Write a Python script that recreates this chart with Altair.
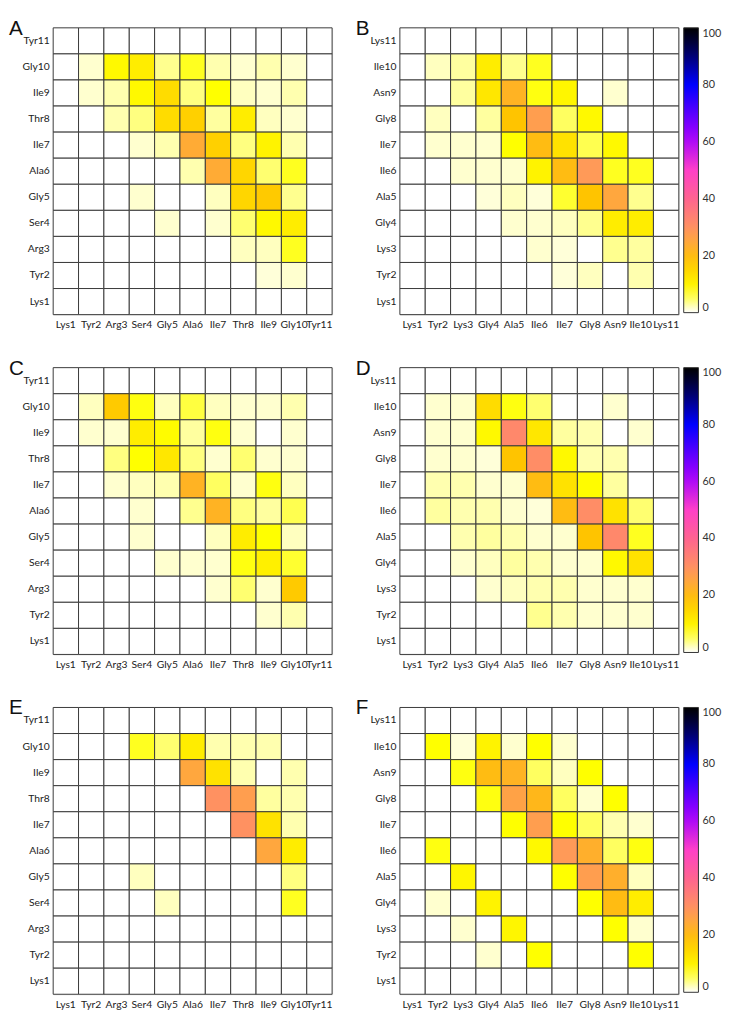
import altair as alt
import pandas as pd

left_res = ["Lys1", "Tyr2", "Arg3", "Ser4", "Gly5", "Ala6", "Ile7", "Thr8", "Ile9", "Gly10", "Tyr11"]
right_res = ["Lys1", "Tyr2", "Lys3", "Gly4", "Ala5", "Ile6", "Ile7", "Gly8", "Asn9", "Ile10", "Lys11"]

# each matrix: rows from residue 11 (top) down to residue 1 (bottom); columns residue 1..11
A_vals = [
    [0, 0, 0, 0, 0, 0, 0, 0, 0, 0, 0],
    [0, 1.5, 9, 11, 3.5, 7, 2.5, 1.5, 2.5, 1.5, 0],
    [0, 1.5, 2.5, 9, 14, 4, 8, 2, 1.5, 2.5, 0],
    [0, 0, 2.5, 4, 14, 16, 3, 11, 2, 1.5, 0],
    [0, 0, 0, 1.5, 2.5, 24, 16, 4, 10, 2.5, 0],
    [0, 0, 0, 0, 0, 2.5, 24, 15, 4.5, 7, 0],
    [0, 0, 0, 1.5, 0, 0, 2, 15, 17, 3.5, 0],
    [0, 0, 0, 0, 1.5, 0, 1.5, 4.5, 9, 11, 0],
    [0, 0, 0, 0, 0, 0, 0, 2, 2, 7, 0],
    [0, 0, 0, 0, 0, 0, 0, 0, 1.2, 1.5, 0],
    [0, 0, 0, 0, 0, 0, 0, 0, 0, 0, 0],
]
B_vals = [
    [0, 0, 0, 0, 0, 0, 0, 0, 0, 0, 0],
    [0, 2, 3, 11, 3.5, 7, 0, 0, 0, 0, 0],
    [0, 0, 3, 12, 22, 7.5, 9.5, 0, 1.5, 0, 0],
    [0, 2, 0, 3, 18, 27, 5, 9, 0, 0, 0],
    [0, 1.5, 1.5, 1.5, 8, 20, 13, 5.5, 9, 0, 0],
    [0, 0, 1.5, 1.5, 1.5, 10, 20, 28, 7, 7, 0],
    [0, 0, 0, 1.2, 2, 1.2, 6.5, 18, 25, 3.5, 0],
    [0, 0, 0, 0, 1.5, 1.5, 2, 3.5, 11, 11, 0],
    [0, 0, 0, 0, 0, 1.5, 1.2, 0, 3.5, 3, 0],
    [0, 0, 0, 0, 0, 0, 1.2, 2, 0, 2.5, 0],
    [0, 0, 0, 0, 0, 0, 0, 0, 0, 0, 0],
]
C_vals = [
    [0, 0, 0, 0, 0, 0, 0, 0, 0, 0, 0],
    [0, 2, 17, 7.5, 2, 6, 2, 1.5, 1.5, 2.5, 0],
    [0, 1.5, 1.5, 11, 8.5, 3, 7.5, 1.5, 0, 1.5, 0],
    [0, 0, 4, 8, 12, 4, 1.5, 4.5, 1.5, 1.5, 0],
    [0, 0, 1.5, 2, 2.5, 22, 5, 1.5, 7.5, 2, 0],
    [0, 0, 0, 1.5, 0, 3.5, 22, 4, 3, 5.5, 0],
    [0, 0, 0, 1.5, 0, 0, 2, 11, 8, 2, 0],
    [0, 0, 0, 0, 1.5, 1.5, 1.5, 7.5, 10.5, 6.5, 0],
    [0, 0, 0, 0, 0, 0, 1.5, 4.5, 1.5, 17, 0],
    [0, 0, 0, 0, 0, 0, 0, 0, 1.5, 2.5, 0],
    [0, 0, 0, 0, 0, 0, 0, 0, 0, 0, 0],
]
D_vals = [
    [0, 0, 0, 0, 0, 0, 0, 0, 0, 0, 0],
    [0, 1.5, 1.5, 14, 7.5, 4.5, 0, 0, 1.5, 0, 0],
    [0, 1.5, 1.5, 9, 32, 12, 3, 2.5, 0, 1.5, 0],
    [0, 1.5, 1.5, 1.2, 18, 31, 9, 2.5, 2.5, 0, 0],
    [0, 2.5, 2.5, 1.5, 1.5, 20, 13, 8.5, 3, 0, 0],
    [0, 3, 2.5, 2.5, 1.5, 1.2, 20, 31, 13, 4.5, 0],
    [0, 0, 2.5, 3, 2.5, 1.5, 1.5, 18, 32, 7, 0],
    [0, 0, 1.5, 2, 3, 2.5, 1.5, 1.5, 9, 13, 0],
    [0, 0, 0, 1.5, 2, 2.5, 2.5, 1.5, 1.5, 1.5, 0],
    [0, 0, 0, 0, 0, 3.5, 2.5, 1.5, 1.5, 1.5, 0],
    [0, 0, 0, 0, 0, 0, 0, 0, 0, 0, 0],
]
E_vals = [
    [0, 0, 0, 0, 0, 0, 0, 0, 0, 0, 0],
    [0, 0, 0, 7, 4.5, 11, 2.5, 2.5, 2.5, 0, 0],
    [0, 0, 0, 0, 0, 25, 13, 2.5, 0, 2.5, 0],
    [0, 0, 0, 0, 0, 0, 30, 27, 3, 2.5, 0],
    [0, 0, 0, 0, 0, 0, 0, 30, 13, 2.5, 0],
    [0, 0, 0, 0, 0, 0, 0, 0, 25, 11, 0],
    [0, 0, 0, 2, 0, 0, 0, 0, 0, 4, 0],
    [0, 0, 0, 0, 2, 0, 0, 0, 0, 7, 0],
    [0, 0, 0, 0, 0, 0, 0, 0, 0, 0, 0],
    [0, 0, 0, 0, 0, 0, 0, 0, 0, 0, 0],
    [0, 0, 0, 0, 0, 0, 0, 0, 0, 0, 0],
]
F_vals = [
    [0, 0, 0, 0, 0, 0, 0, 0, 0, 0, 0],
    [0, 8, 1.2, 10, 1.5, 8, 1.5, 0, 0, 0, 0],
    [0, 0, 7.5, 20, 22, 5, 2, 8, 0, 0, 0],
    [0, 0, 0, 7.5, 26, 21, 5, 1.5, 8, 0, 0],
    [0, 0, 0, 0, 8, 27, 8, 5, 2.5, 1.5, 0],
    [0, 7.5, 0, 0, 0, 9, 28, 23, 5, 7.5, 0],
    [0, 0, 9.5, 0, 0, 0, 8, 27, 23, 2, 0],
    [0, 1.5, 0, 10, 0, 0, 0, 8, 20, 11, 0],
    [0, 0, 1.5, 0, 9.5, 0, 0, 0, 8, 1.5, 0],
    [0, 0, 0, 1.5, 0, 8, 0, 0, 0, 8, 0],
    [0, 0, 0, 0, 0, 0, 0, 0, 0, 0, 0],
]

color_domain = [0, 8, 18, 28, 40, 50, 62, 80, 92, 100]
color_range = ["#ffffff", "#ffff00", "#ffc400", "#ff9a58", "#ff6490",
               "#ff40c8", "#a000ff", "#0000ff", "#00005a", "#000000"]
legend_values = [0, 20, 40, 60, 80, 100]

FONT = "Lato"
W, H = 284, 292


def panel(letter, residues, vals, with_legend):
    rows_top_down = residues[::-1]
    recs = []
    for i, rname in enumerate(rows_top_down):
        for j, cname in enumerate(residues):
            recs.append({"x": cname, "y": rname, "v": vals[i][j]})
    df = pd.DataFrame(recs)
    if with_legend:
        leg = alt.Legend(title=None, orient="right", offset=5, direction="vertical",
                         gradientLength=290, gradientThickness=15,
                         values=legend_values, labelFontSize=11, labelFont=FONT,
                         labelColor="#333", gradientStrokeColor="#333",
                         gradientStrokeWidth=1, labelOffset=4)
    else:
        leg = None
    color = alt.Color("v:Q", scale=alt.Scale(domain=color_domain, range=color_range,
                                             interpolate="rgb"),
                      legend=leg)
    rect = alt.Chart(df).mark_rect(stroke="#3a3a3a", strokeWidth=1).encode(
        x=alt.X("x:N", sort=residues, title=None,
                axis=alt.Axis(labelAngle=0, ticks=False, domain=False, labelPadding=5,
                              labelFont=FONT, labelFontSize=10.5, labelColor="#222",
                              orient="bottom")),
        y=alt.Y("y:N", sort=rows_top_down, title=None,
                axis=alt.Axis(ticks=False, domain=False, labelPadding=4,
                              labelFont=FONT, labelFontSize=10.5, labelColor="#222")),
        color=color,
    )
    txt = alt.Chart(pd.DataFrame({"t": [letter]})).mark_text(
        font="Liberation Sans", fontSize=21, align="left", baseline="top",
        color="#111"
    ).encode(text="t:N", x=alt.value(-45), y=alt.value(-10))
    return alt.layer(rect, txt).properties(width=W, height=H)


pA = panel("A", left_res, A_vals, False)
pB = panel("B", right_res, B_vals, True)
pC = panel("C", left_res, C_vals, False)
pD = panel("D", right_res, D_vals, True)
pE = panel("E", left_res, E_vals, False)
pF = panel("F", right_res, F_vals, True)

res = dict(color="independent", x="independent", y="independent")
row1 = alt.hconcat(pA, pB, spacing=22).resolve_scale(**res)
row2 = alt.hconcat(pC, pD, spacing=22).resolve_scale(**res)
row3 = alt.hconcat(pE, pF, spacing=22).resolve_scale(**res)

chart = alt.vconcat(row1, row2, row3, spacing=27).resolve_scale(**res).properties(
    padding={"left": 0, "top": 0, "right": 0, "bottom": 0}
).configure_view(stroke=None).configure(background="white")

chart.save("out.html", embed_options={"renderer": "svg", "actions": False})
